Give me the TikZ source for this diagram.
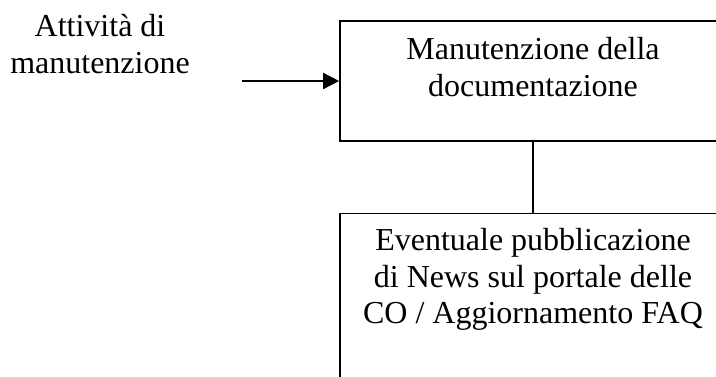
\documentclass[tikz,border=0pt]{standalone}
\usepackage{fontspec}
\setmainfont{Liberation Serif}
\usetikzlibrary{arrows.meta,positioning}

\begin{document}
\begin{tikzpicture}
%defines
  [x=1pt,y=-1pt,
every node/.style={font=\fontsize{32}{36.8}\selectfont},
task/.style={rectangle,draw=black,line width=1.6pt,
inner sep=0pt,minimum width=386pt,minimum height=120pt},
caption/.style={align=center,inner sep=0pt,anchor=north},
link/.style={line width=1.5pt}]
\useasboundingbox (0,0) rectangle (716,376);
\clip (0,0) rectangle (716,376);
%nodes
\node[task]                    (maintenance)                          at (533,81) {};
\node[task,minimum height=200pt] (news)    [below=71pt of maintenance] {};
\node[caption] (maintenance text) [below=17pt of maintenance.north] {Manutenzione della\\documentazione};
\node[caption] (news text)        [below=15pt of news.north]        {Eventuale pubblicazione\\di News sul portale delle\\CO / Aggiornamento FAQ};
\coordinate (input) at ([xshift=-97pt]maintenance.west);
\node[caption] (activity) at (100,14) {Attività di\\manutenzione};
%links
\draw [link,-{Triangle[length=16pt,width=16pt]}] (input) to (maintenance);
\draw [link] (maintenance) to (news);
\end{tikzpicture}
\end{document}
